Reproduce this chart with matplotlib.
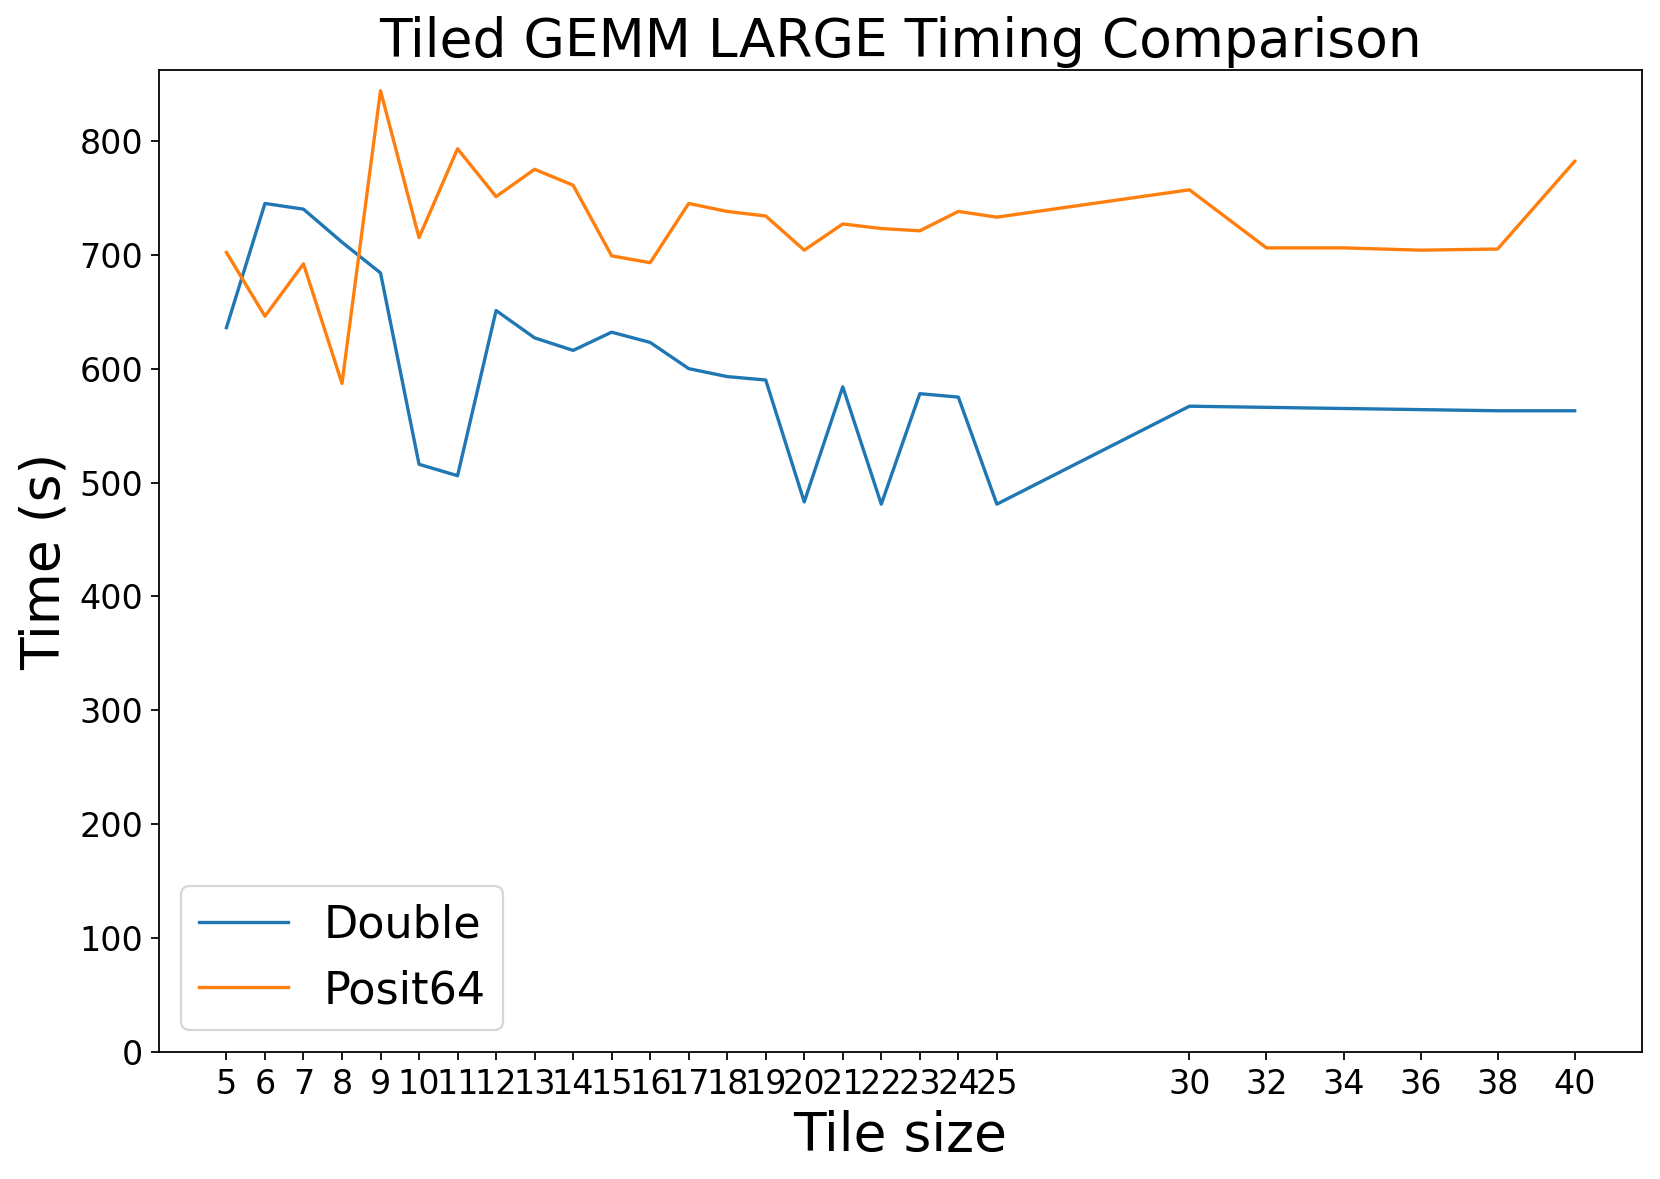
import matplotlib
matplotlib.use("Agg")
import matplotlib.pyplot as plt

tile_sizes = [5, 6, 7, 8, 9, 10, 11, 12, 13, 14, 15, 16, 17, 18, 19, 20, 21, 22, 23, 24, 25,
              30, 32, 34, 36, 38, 40]
double_times = [636, 745, 740, 711, 684, 516, 506, 651, 627, 616, 632, 623, 600, 593, 590,
                483, 584, 481, 578, 575, 481, 567, 566, 565, 564, 563, 563]
posit64_times = [702, 646, 692, 587, 844, 715, 793, 751, 775, 761, 699, 693, 745, 738, 734,
                 704, 727, 723, 721, 738, 733, 757, 706, 706, 704, 705, 782]

fig = plt.figure(figsize=(10.375, 7.36875), dpi=160)
ax = fig.add_axes([0.0958, 0.1077, 0.8934, 0.8329])
ax.plot(tile_sizes, double_times, label="Double")
ax.plot(tile_sizes, posit64_times, label="Posit64")
ax.set_ylim(bottom=0)
ax.set_xticks(tile_sizes)
ax.set_xticklabels([str(t) for t in tile_sizes])
ax.tick_params(labelsize=15)
ax.set_xlabel("Tile size", fontsize=24)
ax.set_ylabel("Time (s)", fontsize=24)
ax.set_title("Tiled GEMM LARGE Timing Comparison", fontsize=24)
ax.legend(loc="lower left", fontsize=20)
fig.savefig("out.png", dpi=160)
